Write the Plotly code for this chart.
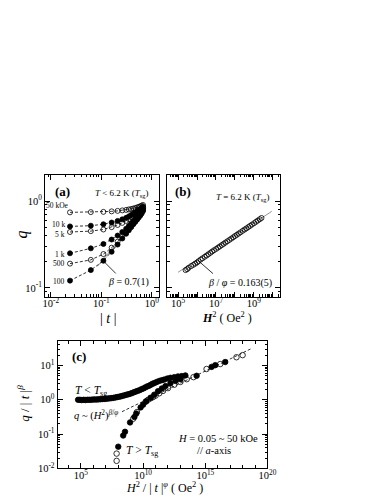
import plotly.graph_objects as go

# ---- panel (a): q vs |t| at several fields (T < Tsg) ----
t_abs = [0.024, 0.062, 0.11, 0.16, 0.21, 0.26, 0.31, 0.35, 0.39, 0.43, 0.47, 0.51, 0.55, 0.59, 0.63, 0.67]
q_100 = [0.121, 0.160, 0.205, 0.26, 0.315, 0.37, 0.42, 0.46, 0.50, 0.54, 0.575, 0.61, 0.645, 0.68, 0.72, 0.77]
q_500 = [0.19, 0.21, 0.245, 0.29, 0.34, 0.39, 0.435, 0.475, 0.515, 0.55, 0.59, 0.625, 0.66, 0.70, 0.74, 0.79]
q_1k = [0.25, 0.285, 0.32, 0.36, 0.40, 0.44, 0.48, 0.515, 0.55, 0.585, 0.62, 0.655, 0.69, 0.72, 0.76, 0.81]
q_5k = [0.44, 0.45, 0.47, 0.50, 0.53, 0.56, 0.59, 0.62, 0.65, 0.675, 0.70, 0.725, 0.75, 0.78, 0.81, 0.84]
q_10k = [0.51, 0.52, 0.54, 0.565, 0.59, 0.615, 0.64, 0.665, 0.69, 0.715, 0.74, 0.765, 0.79, 0.81, 0.835, 0.86]
q_50k = [0.74, 0.745, 0.75, 0.76, 0.77, 0.78, 0.79, 0.80, 0.81, 0.82, 0.83, 0.845, 0.855, 0.87, 0.885, 0.90]
t_fit_a = [0.084, 0.77]
q_fit_a = [0.177, 0.833]

# ---- panel (b): q vs H^2 at T = Tsg ----
H_b = [0.5, 0.55, 0.6, 0.7, 0.8, 0.9, 1.0, 1.1, 1.25, 1.4, 1.6, 1.8, 2.0, 2.25, 2.5, 2.8, 3.2, 3.6, 4.0, 4.5,
       5.0, 5.6, 6.3, 7.1, 8.0, 9.0, 10, 11.2, 12.5, 14, 16, 18, 20, 22.5, 25, 28, 32, 36, 40, 45, 50]  # kOe
q_b = [0.160, 0.164, 0.170, 0.178, 0.184, 0.190, 0.196, 0.203, 0.212, 0.219, 0.228, 0.236, 0.244, 0.253,
       0.262, 0.271, 0.281, 0.291, 0.300, 0.311, 0.321, 0.332, 0.344, 0.356, 0.369, 0.382, 0.395, 0.408,
       0.422, 0.436, 0.454, 0.470, 0.484, 0.501, 0.517, 0.535, 0.556, 0.577, 0.596, 0.617, 0.638]
H2_fit_b = [1.0e5, 8.7e9]
q_fit_b = [0.151, 0.76]

# ---- panel (c): scaling plot ----
xc_below = [5.9e4, 8.3e4, 1.17e5, 1.66e5, 2.34e5, 3.3e5, 4.7e5, 6.6e5, 9.3e5, 1.32e6, 1.86e6, 2.6e6, 3.7e6,
            5.2e6, 7.4e6, 1.05e7, 1.48e7, 2.1e7, 3.0e7, 4.2e7, 5.9e7, 8.3e7, 1.17e8, 1.66e8, 2.3e8, 3.3e8,
            4.7e8, 6.6e8, 9.3e8, 1.32e9, 1.86e9, 2.6e9, 3.7e9, 5.2e9, 7.4e9, 1.05e10, 1.48e10, 2.1e10, 3.0e10,
            4.2e10, 5.9e10, 8.3e10, 1.26e11, 2.0e11, 3.2e11, 5.0e11, 8.9e11, 1.58e12, 3.2e12, 6.3e12, 1.26e13,
            2.5e13, 2.0e14, 3.2e15, 6.3e15, 4.0e16]
yc_below = [1.00, 1.00, 0.98, 1.00, 0.98, 1.00, 1.00, 1.00, 1.02, 1.02, 1.02, 1.03, 1.04, 1.05, 1.06, 1.07,
            1.09, 1.10, 1.12, 1.14, 1.17, 1.20, 1.23, 1.26, 1.31, 1.35, 1.41, 1.45, 1.51, 1.58, 1.66, 1.74,
            1.82, 1.91, 2.04, 2.14, 2.29, 2.45, 2.57, 2.75, 2.95, 3.09, 3.31, 3.55, 3.72, 3.89, 4.17, 4.37,
            4.57, 4.79, 4.90, 5.13, 5.0, 9.1, 10.2, 12.6]
xc_below_open = [1.12e14, 1.26e15, 1.58e16, 3.2e17, 1.0e18]
yc_below_open = [4.57, 7.9, 11.0, 17.4, 20.0]
xc_above = [1.0e8, 2.5e8, 3.5e8, 8.9e8, 2.0e9, 2.8e9, 6.3e9, 1.0e10, 1.78e10, 4.0e10, 7.9e10, 1.58e11,
            3.2e11, 6.3e11, 1.58e12, 4.0e12, 1.0e13]
yc_above = [0.043, 0.091, 0.117, 0.219, 0.316, 0.398, 0.60, 0.72, 0.91, 1.15, 1.41, 1.78, 2.14, 2.51, 3.02,
            3.55, 3.98]
xc_above_open = [7.4e7, 7.4e7, 1.58e9, 3.2e9, 1.58e10, 2.5e10, 4.0e10, 6.3e10, 1.0e11, 2.0e11, 4.0e11,
                 1.0e12, 3.2e12, 1.0e13, 3.2e13]
yc_above_open = [0.027, 0.0166, 0.28, 0.44, 0.87, 1.0, 1.10, 1.20, 1.32, 1.55, 1.82, 2.19, 2.75, 3.31, 3.98]
xc_fit = [2.0e8, 5.0e18]
yc_fit = [0.45, 31]

FONT = "Liberation Serif, Times New Roman, serif"
W, H = 388, 502


def px(x, y):
    # pixel position -> paper coordinates
    return x / W, 1 - y / H


def minors(e0, e1):
    return [m * 10.0 ** e for e in range(e0, e1) for m in range(2, 10)]


fig = go.Figure()

# panel (a)
dash = dict(color="black", width=0.8, dash="3px,2px")
fields = [(q_50k, False), (q_10k, True), (q_5k, False), (q_1k, True), (q_500, False), (q_100, True)]
fig.add_trace(go.Scatter(x=t_fit_a, y=q_fit_a, mode="lines", line=dict(color="#777", width=0.8),
                         xaxis="x", yaxis="y"))
for q, filled in fields:
    fig.add_trace(go.Scatter(
        x=t_abs, y=q, mode="lines+markers", line=dash,
        marker=dict(symbol="circle" if filled else "circle-open", size=5, color="black",
                    line=dict(color="black", width=0.8)),
        xaxis="x", yaxis="y"))

# panel (b)
H2_b = [(h * 1000) ** 2 for h in H_b]
fig.add_trace(go.Scatter(x=H2_fit_b, y=q_fit_b, mode="lines", line=dict(color="#777", width=0.8),
                         xaxis="x2", yaxis="y2"))
fig.add_trace(go.Scatter(x=H2_b, y=q_b, mode="markers",
                         marker=dict(symbol="circle-open", size=5, color="black", line=dict(width=0.8)),
                         xaxis="x2", yaxis="y2"))

# panel (c)
fig.add_trace(go.Scatter(x=xc_fit, y=yc_fit, mode="lines", line=dash, xaxis="x3", yaxis="y3"))
for xs, ys, filled in [(xc_below, yc_below, True), (xc_below_open, yc_below_open, False),
                       (xc_above, yc_above, True), (xc_above_open, yc_above_open, False)]:
    fig.add_trace(go.Scatter(
        x=xs, y=ys, mode="markers",
        marker=dict(symbol="circle" if filled else "circle-open", size=5.5, color="black",
                    line=dict(color="black", width=0.8)),
        xaxis="x3", yaxis="y3"))

axis_style = dict(type="log", showline=True, linecolor="black", linewidth=1, mirror="allticks",
                  ticks="inside", ticklen=5, tickwidth=1, tickcolor="black", showgrid=False,
                  zeroline=False, tickmode="array",
                  tickfont=dict(family=FONT, size=10.5, color="black"))


def minor(vals, ln=2.5):
    return dict(tickmode="array", tickvals=vals, ticks="inside", ticklen=ln, tickwidth=0.8,
                tickcolor="black", showgrid=False)


fig.update_layout(
    width=W, height=H, margin=dict(l=0, r=0, t=0, b=0), showlegend=False,
    paper_bgcolor="white", plot_bgcolor="white",
    xaxis=dict(axis_style, domain=[36 / W, 153 / W], anchor="y", range=[-2.115, 0.135],
               tickvals=[0.01, 0.1, 1], ticktext=["10<sup>-2</sup>", "10<sup>-1</sup>", "10<sup>0</sup>"],
               ticklabelstandoff=-3, minor=minor(minors(-3, 1))),
    yaxis=dict(axis_style, domain=[1 - 292 / H, 1 - 169 / H], anchor="x", range=[-1.1, 0.3],
               tickvals=[0.1, 1], ticktext=["10<sup>-1</sup>", "10<sup>0</sup>"],
               minor=minor(minors(-2, 1))),
    xaxis2=dict(axis_style, domain=[162 / W, 278 / W], anchor="y2", range=[4.44, 10.38],
                tickvals=[1e5, 1e6, 1e7, 1e8, 1e9, 1e10],
                ticktext=["10<sup>5</sup>", "", "10<sup>7</sup>", "", "10<sup>9</sup>", ""],
                ticklabelstandoff=-3, minor=minor(minors(4, 11))),
    yaxis2=dict(axis_style, domain=[1 - 292 / H, 1 - 169 / H], anchor="x2", range=[-1.1, 0.3],
                tickvals=[0.1, 1], showticklabels=False, minor=minor(minors(-2, 1))),
    xaxis3=dict(axis_style, domain=[49 / W, 265 / W], anchor="y3", range=[3.125, 20],
                tickvals=[1e5, 1e10, 1e15, 1e20],
                ticktext=["10<sup>5</sup>", "10<sup>10</sup>", "10<sup>15</sup>", "10<sup>20</sup>"],
                ticklabelstandoff=-3, minor=minor([10.0 ** e for e in range(3, 21)], 3.5)),
    yaxis3=dict(axis_style, domain=[1 - 466 / H, 1 - 337 / H], anchor="x3", range=[-2, 1.714],
                tickvals=[0.01, 0.1, 1, 10],
                ticktext=["10<sup>-2</sup>", "10<sup>-1</sup>", "10<sup>0</sup>", "10<sup>1</sup>"],
                minor=minor(minors(-2, 2))),
)

notes = [
    # (text, x_px, y_px, size, xanchor, angle)
    ("<b>(a)</b>", 54, 186, 13, "center", 0),
    ("<i>T</i> &lt; 6.2 K (<i>T</i><sub>sg</sub>)", 115, 188, 9, "center", 0),
    ("50 kOe", 63, 200, 7.5, "right", 0),
    ("10 k", 59, 219.5, 7.5, "right", 0),
    ("5 k", 59, 229, 7.5, "right", 0),
    ("1 k", 59, 249, 7.5, "right", 0),
    ("500", 59, 259, 7.5, "right", 0),
    ("100", 59, 277, 7.5, "right", 0),
    ("<i>β</i> = 0.7(1)", 122, 277, 10, "center", 0),
    ("<b>(b)</b>", 178, 186, 13, "center", 0),
    ("<i>T</i> = 6.2 K (<i>T</i><sub>sg</sub>)", 239, 192, 9, "center", 0),
    ("<i>β</i> / <i>φ</i> = 0.163(5)", 236.5, 278, 10, "center", 0),
    ("<b>(c)</b>", 71, 353, 13, "center", 0),
    ("<i>T</i> &lt; <i>T</i><sub>sg</sub>", 83.5, 388, 11.5, "center", 0),
    ("<i>q</i> ~ (<i>H</i><sup>2</sup>)<sup><i>β</i>/<i>φ</i></sup>", 89, 412, 10.5, "center", 0),
    ("<i>T</i> &gt; <i>T</i><sub>sg</sub>", 136, 448, 11.5, "center", 0),
    ("<i>H</i> = 0.05 ~ 50 kOe", 257, 436, 10.5, "right", 0),
    ("// <i>a</i>-axis", 190, 448, 10.5, "left", 0),
    # axis titles
    ("<i>q</i>", 12.5, 229, 16, "center", -90),
    ("| <i>t</i> |", 101, 314, 14, "center", 0),
    ("<b><i>H</i></b><sup>2</sup> ( Oe<sup>2</sup> )", 223, 313, 12, "center", 0),
    ("<i>q</i> / | <i>t</i> |<sup><i>β</i></sup>", 14, 400, 13, "center", -90),
    ("<i>H</i><sup>2</sup> / | <i>t</i> |<sup><i>φ</i></sup> ( Oe<sup>2</sup> )", 159, 485, 12, "center", 0),
]
for text, x, y, size, anchor, ang in notes:
    xp, yp = px(x, y)
    fig.add_annotation(text=text, x=xp, y=yp, xref="paper", yref="paper", showarrow=False,
                       xanchor=anchor, yanchor="middle", textangle=ang,
                       font=dict(family=FONT, size=size, color="black"))

# pointer lines for the fit labels
for (x0, y0), (x1, y1) in [((95, 255), (110, 270)), ((194, 256), (210, 270))]:
    xp, yp = px(x0, y0)
    fig.add_annotation(text="", x=xp, y=yp, xref="paper", yref="paper", showarrow=True,
                       arrowhead=0, arrowwidth=0.8, arrowcolor="black",
                       ax=x1 - x0, ay=y1 - y0, axref="pixel", ayref="pixel")

fig.write_html("out.html")
